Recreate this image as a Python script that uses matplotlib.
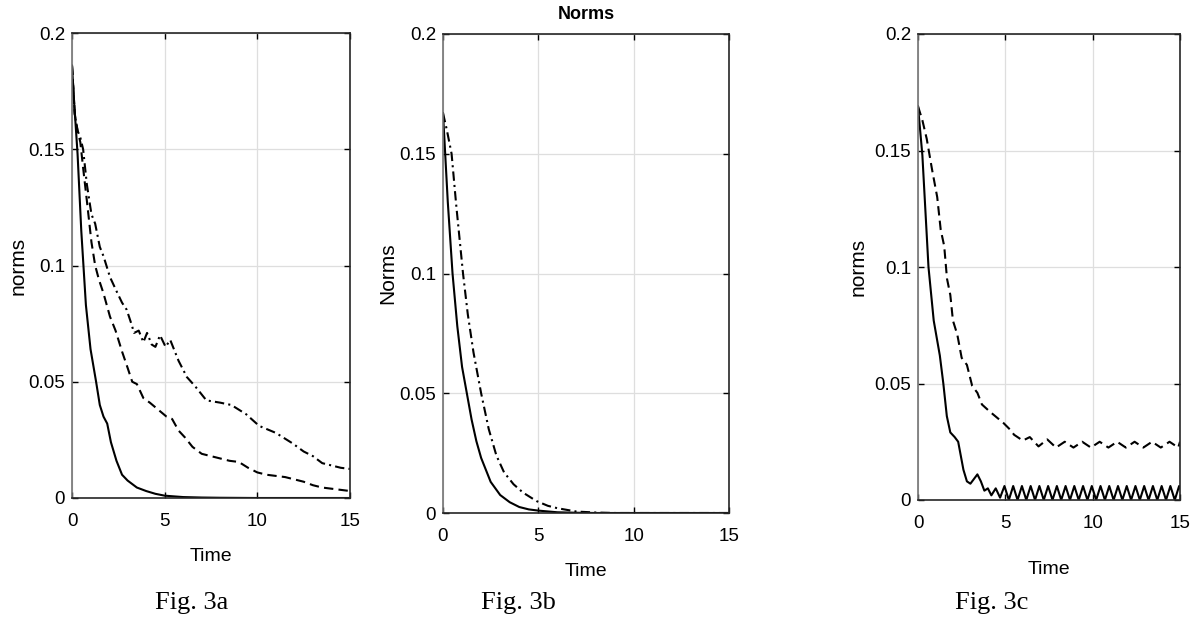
'''
Three norm-decay panels (Fig. 3a, 3b, 3c), MATLAB look.
'''

import numpy as np
import matplotlib
matplotlib.use('Agg')
from matplotlib import pyplot as plt


#(0) Data:
# Fig. 3a
ta_solid = [0, 0.1, 0.2, 0.3, 0.5, 0.75, 1.0, 1.3, 1.5, 1.7, 1.9, 2.1, 2.4, 2.7, 3.0, 3.5, 4.0, 4.5, 5.0, 6.0, 7.0, 8.0, 10.0, 15.0]
ya_solid = [0.186, 0.172, 0.160, 0.148, 0.115, 0.083, 0.064, 0.050, 0.040, 0.035, 0.032, 0.024, 0.016, 0.010, 0.0075, 0.0045, 0.003, 0.0018, 0.001, 0.0004, 0.0002, 0.0001, 0.0, 0.0]

ta_dash = [0, 0.15, 0.3, 0.45, 0.6, 0.8, 1.05, 1.25, 1.45, 1.7, 2.05, 2.35, 2.7, 3.0, 3.25, 3.5, 3.85, 4.2, 4.5, 4.8, 5.1, 5.4, 5.75, 6.1, 6.5, 7.0, 7.5, 8.0, 8.5, 9.0, 9.5, 10.0, 10.5, 11.0, 11.5, 12.0, 12.5, 13.0, 13.5, 14.0, 14.5, 15.0]
ya_dash = [0.186, 0.165, 0.158, 0.153, 0.142, 0.128, 0.110, 0.100, 0.094, 0.088, 0.078, 0.072, 0.063, 0.056, 0.050, 0.049, 0.043, 0.041, 0.039, 0.037, 0.035, 0.034, 0.029, 0.026, 0.022, 0.019, 0.018, 0.017, 0.016, 0.0155, 0.013, 0.011, 0.010, 0.0095, 0.009, 0.008, 0.007, 0.0055, 0.0045, 0.004, 0.0035, 0.003]

ta_dot = [0, 0.15, 0.3, 0.45, 0.6, 0.8, 1.05, 1.25, 1.5, 1.7, 2.05, 2.4, 2.7, 2.95, 3.2, 3.35, 3.6, 3.85, 4.05, 4.3, 4.5, 4.75, 5.05, 5.3, 5.75, 6.2, 6.65, 7.25, 8.0, 8.6, 9.4, 10.1, 11.0, 11.9, 12.5, 13.0, 13.5, 14.0, 14.5, 15.0]
ya_dot = [0.186, 0.165, 0.158, 0.155, 0.150, 0.135, 0.122, 0.118, 0.108, 0.104, 0.095, 0.089, 0.084, 0.081, 0.075, 0.071, 0.072, 0.067, 0.071, 0.066, 0.065, 0.070, 0.065, 0.068, 0.059, 0.052, 0.048, 0.042, 0.041, 0.040, 0.036, 0.031, 0.028, 0.0235, 0.020, 0.018, 0.015, 0.014, 0.013, 0.0125]

# Fig. 3b
tb_solid = [0, 0.25, 0.5, 0.75, 1.0, 1.25, 1.5, 1.75, 2.0, 2.5, 3.0, 3.5, 4.0, 4.5, 5.0, 6.0, 7.0, 8.0, 15.0]
yb_solid = [0.167, 0.130, 0.100, 0.078, 0.061, 0.050, 0.039, 0.030, 0.023, 0.013, 0.0075, 0.0045, 0.0025, 0.0015, 0.001, 0.0003, 0.0001, 0.0, 0.0]

tb_dot = [0, 0.2, 0.45, 0.7, 1.05, 1.3, 1.6, 2.0, 2.4, 2.8, 3.2, 3.7, 4.2, 4.9, 5.5, 6.0, 7.0, 8.0, 9.0, 15.0]
yb_dot = [0.167, 0.160, 0.150, 0.128, 0.100, 0.083, 0.067, 0.050, 0.035, 0.024, 0.017, 0.012, 0.0085, 0.005, 0.003, 0.002, 0.0006, 0.0002, 0.0, 0.0]

# Fig. 3c
tc_solid = [0, 0.25, 0.6, 0.9, 1.25, 1.45, 1.65, 1.85, 2.1, 2.3, 2.45, 2.6, 2.8, 3.0, 3.2, 3.4, 3.6, 3.8, 4.0, 4.2, 4.45, 4.7, 4.95,
            5.2, 5.45, 5.7, 5.95, 6.2, 6.45, 6.7, 6.95, 7.2, 7.45, 7.7, 7.95, 8.2, 8.45, 8.7, 8.95, 9.2, 9.45, 9.7, 9.95,
            10.2, 10.45, 10.7, 10.95, 11.2, 11.45, 11.7, 11.95, 12.2, 12.45, 12.7, 12.95, 13.2, 13.45, 13.7, 13.95,
            14.2, 14.45, 14.7, 14.95, 15.0]
yc_solid = [0.169, 0.148, 0.100, 0.077, 0.062, 0.050, 0.036, 0.029, 0.027, 0.025, 0.019, 0.013, 0.008, 0.007, 0.009, 0.011, 0.008, 0.004, 0.005, 0.002, 0.005, 0.001, 0.006,
            0.0, 0.006, 0.0, 0.006, 0.0, 0.006, 0.0, 0.006, 0.0, 0.006, 0.0, 0.006, 0.0, 0.006, 0.0, 0.006, 0.0, 0.006, 0.0, 0.006,
            0.0, 0.006, 0.0, 0.006, 0.0, 0.006, 0.0, 0.006, 0.0, 0.006, 0.0, 0.006, 0.0, 0.006, 0.0, 0.006,
            0.0, 0.006, 0.0, 0.006, 0.005]

tc_dash = [0, 0.25, 0.5, 0.8, 1.1, 1.3, 1.5, 1.66, 1.85, 2.0, 2.25, 2.5, 2.8, 3.1, 3.4, 3.66, 4.1, 4.5, 4.9, 5.3, 5.5, 6.0, 6.4, 6.9, 7.4, 7.9, 8.4, 8.9, 9.4, 9.9, 10.4, 10.9, 11.4, 11.9, 12.4, 12.9, 13.4, 13.9, 14.4, 14.9, 15.0]
yc_dash = [0.169, 0.163, 0.155, 0.142, 0.130, 0.116, 0.109, 0.095, 0.088, 0.077, 0.071, 0.061, 0.058, 0.049, 0.046, 0.041, 0.038, 0.0355, 0.033, 0.030, 0.028, 0.0255, 0.027, 0.023, 0.026, 0.0225, 0.025, 0.0225, 0.025, 0.0225, 0.025, 0.0225, 0.025, 0.0225, 0.025, 0.0225, 0.025, 0.0225, 0.025, 0.0225, 0.025]

xticks  = [0, 5, 10, 15]
yticks  = [0, 0.05, 0.1, 0.15, 0.2]
ylabels = ['0', '0.05', '0.1', '0.15', '0.2']


#(1) Plot:
plt.close('all')
plt.rcParams['font.family'] = ['Liberation Sans', 'DejaVu Sans']
W, H = 1197, 621
fig = plt.figure(figsize=(W/100, H/100), dpi=100)

def box(l, t, r, b):
	return [l/W, 1 - b/H, (r - l)/W, (b - t)/H]

axa = fig.add_axes(box(72, 33, 350, 498))
axb = fig.add_axes(box(443, 34, 729, 513))
axc = fig.add_axes(box(918, 34, 1180, 500))

dash   = (0, (4.5, 2.5))
dashdt = (0, (4.5, 2, 1, 2))
lw     = 1.5

axa.plot(ta_dot, ya_dot, color='k', lw=lw, ls=dashdt)
axa.plot(ta_dash, ya_dash, color='k', lw=lw, ls=dash)
axa.plot(ta_solid, ya_solid, color='k', lw=lw)

axb.plot(tb_dot, yb_dot, color='k', lw=lw, ls=dashdt)
axb.plot(tb_solid, yb_solid, color='k', lw=lw)

axc.plot(tc_dash, yc_dash, color='k', lw=lw, ls=dash)
axc.plot(tc_solid, yc_solid, color='k', lw=lw)

ylab = {axa: ('norms', -0.194, -0.125), axb: ('Norms', -0.192, -0.123), axc: ('norms', -0.229, -0.150)}
for ax in [axa, axb, axc]:
	ax.set_xlim(0, 15)
	ax.set_ylim(0, 0.2)
	ax.set_xticks(xticks)
	ax.set_xticklabels([str(x) for x in xticks])
	ax.set_yticks(yticks)
	ax.set_yticklabels(ylabels)
	ax.grid(True, color='0.87', lw=0.9)
	ax.set_axisbelow(True)
	ax.tick_params(direction='in', length=4, width=1.0, top=True, right=True, labelsize=13.5, colors='k')
	ax.tick_params(axis='x', pad=11)
	ax.tick_params(axis='y', pad=5)
	for s in ['top', 'right', 'bottom']:
		ax.spines[s].set_color('0.15')
		ax.spines[s].set_linewidth(1.2)
	ax.spines['left'].set_color('0.45')
	ax.spines['left'].set_linewidth(1.2)
	name, lx, tx = ylab[ax]
	ax.set_ylabel(name, size=15, va='center')
	ax.yaxis.set_label_coords(lx, 0.5)
	ax.set_xlabel('Time', size=14, va='center')
	ax.xaxis.set_label_coords(0.5, tx)

axb.text(0.5, 1.04, 'Norms', transform=axb.transAxes, ha='center', va='center', size=13, weight='bold')

for x, s in [(192, 'Fig. 3a'), (518, 'Fig. 3b'), (992, 'Fig. 3c')]:
	fig.text(x/W, 1 - 603/H, s, ha='center', va='center', size=19, family='Liberation Serif')

plt.savefig('out.png', dpi=100)
